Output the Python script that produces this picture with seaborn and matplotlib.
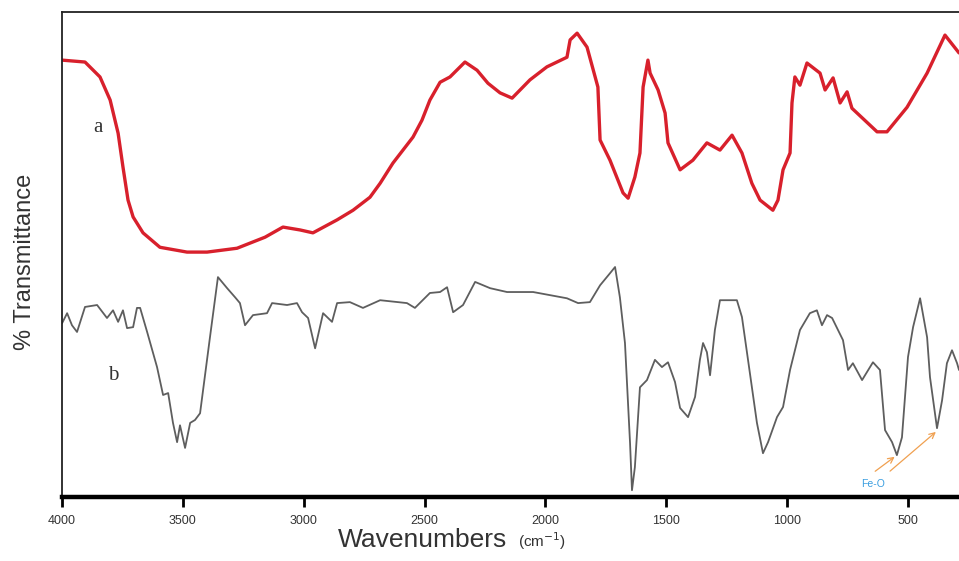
import pandas as pd
import seaborn as sns
import matplotlib
matplotlib.use("Agg")
import matplotlib.pyplot as plt

# spectrum a (red)
wn_a = [4000, 3905, 3843, 3801, 3768, 3748, 3727, 3706, 3665, 3595, 3483, 3400,
        3276, 3160, 3086, 3015, 2962, 2862, 2796, 2726, 2684, 2631, 2548, 2511,
        2478, 2436, 2395, 2333, 2283, 2238, 2188, 2138, 2064, 1994, 1911, 1898,
        1869, 1828, 1783, 1774, 1733, 1679, 1658, 1630, 1609, 1596, 1576, 1567,
        1534, 1505, 1493, 1443, 1390, 1332, 1278, 1228, 1187, 1146, 1112, 1059,
        1038, 1017, 988, 980, 968, 947, 918, 864, 843, 810, 781, 752, 732, 628,
        587, 504, 421, 347, 289]
t_a = [90.0, 89.6, 86.5, 81.7, 74.8, 67.8, 60.9, 57.4, 54.1, 51.1, 50.1, 50.1,
       50.9, 53.2, 55.3, 54.7, 54.1, 56.8, 58.8, 61.5, 64.4, 68.6, 74.0, 77.5,
       81.7, 85.4, 86.5, 89.6, 87.9, 85.2, 83.2, 82.1, 85.9, 88.6, 90.6, 94.2,
       95.6, 92.7, 84.4, 73.4, 69.2, 62.4, 61.3, 65.7, 70.7, 84.4, 90.0, 87.3,
       83.8, 79.0, 72.8, 67.2, 69.2, 72.8, 71.3, 74.4, 70.7, 64.4, 60.9, 58.8,
       60.9, 67.2, 70.7, 81.1, 86.5, 84.8, 89.4, 87.3, 83.8, 86.3, 81.1, 83.4,
       80.0, 75.1, 75.1, 80.2, 87.3, 95.2, 91.5]

# spectrum b (grey)
wn_b = [4000, 3979, 3959, 3938, 3905, 3855, 3814, 3789, 3768, 3748, 3731, 3706,
        3690, 3677, 3648, 3607, 3582, 3561, 3541, 3524, 3512, 3491, 3470, 3450,
        3429, 3388, 3355, 3317, 3284, 3264, 3243, 3210, 3152, 3131, 3069, 3028,
        3007, 2982, 2953, 2920, 2883, 2862, 2809, 2755, 2684, 2573, 2540, 2478,
        2436, 2407, 2382, 2341, 2291, 2229, 2159, 2051, 1911, 1865, 1816, 1774,
        1733, 1712, 1692, 1671, 1650, 1642, 1630, 1609, 1580, 1547, 1518, 1493,
        1464, 1443, 1410, 1381, 1361, 1348, 1332, 1319, 1299, 1278, 1208, 1187,
        1154, 1125, 1100, 1079, 1042, 1017, 988, 947, 906, 877, 856, 835, 814,
        769, 748, 728, 690, 645, 616, 595, 566, 546, 525, 500, 479, 450, 421,
        409, 380, 359, 339, 318, 297, 289]
t_b = [35.3, 37.4, 34.9, 33.5, 38.7, 39.1, 36.4, 38.0, 35.6, 38.0, 34.3, 34.5,
       38.5, 38.5, 33.5, 26.2, 20.4, 20.8, 14.6, 10.6, 14.1, 9.4, 14.6, 15.2,
       16.6, 32.4, 44.9, 42.6, 40.7, 39.5, 34.9, 37.0, 37.4, 39.5, 39.1, 39.5,
       37.6, 36.4, 30.1, 37.4, 35.6, 39.5, 39.7, 38.5, 40.1, 39.5, 38.5, 41.6,
       41.8, 42.8, 37.6, 39.1, 43.9, 42.6, 41.8, 41.8, 40.5, 39.5, 39.7, 43.2,
       45.7, 47.0, 40.7, 31.2, 10.4, 0.6, 5.4, 22.0, 23.5, 27.7, 26.2, 27.2,
       23.1, 17.7, 15.8, 20.0, 27.7, 31.2, 29.3, 24.5, 33.9, 40.1, 40.1, 36.6,
       24.9, 14.6, 8.3, 10.6, 15.8, 17.9, 25.6, 33.9, 37.4, 38.0, 34.9, 37.0,
       36.4, 31.8, 25.6, 27.0, 23.5, 27.2, 25.6, 13.1, 10.6, 7.9, 11.6, 28.3,
       34.5, 40.5, 32.4, 24.1, 13.5, 19.3, 27.0, 29.7, 27.0, 25.6]

tick_values = [4000, 3500, 3000, 2500, 2000, 1500, 1000, 500]

df_a = pd.DataFrame({"wavenumber": wn_a, "T": t_a})
df_b = pd.DataFrame({"wavenumber": wn_b, "T": t_b})

sns.set_style("white")
plt.rcParams["font.family"] = ["Liberation Sans", "DejaVu Sans"]

fig = plt.figure(figsize=(9.59, 5.61), dpi=100)
ax = fig.add_axes([0.0647, 0.1141, 0.9353, 0.8645])

sns.lineplot(data=df_a, x="wavenumber", y="T", sort=False, color="#d8202c",
             linewidth=2.4, ax=ax)
sns.lineplot(data=df_b, x="wavenumber", y="T", sort=False, color="#5e5e5e",
             linewidth=1.3, ax=ax)

ax.set_xlim(4000, 289)
ax.set_ylim(-0.8, 100)
ax.set_xticks(tick_values)
ax.set_xticklabels([str(v) for v in tick_values], fontsize=9, color="#333333")
ax.set_yticks([])
ax.set_xlabel("")
ax.set_ylabel("")
ax.tick_params(axis="x", direction="out", length=7, width=2, color="black",
               bottom=True, pad=6)

for side in ["left", "top"]:
    ax.spines[side].set_color("#222222")
    ax.spines[side].set_linewidth(1.3)
ax.spines["bottom"].set_color("black")
ax.spines["bottom"].set_linewidth(3.2)
ax.spines["right"].set_visible(False)

# curve labels
ax.text(3851, 75.9, "a", family="Liberation Serif", fontsize=15,
        color="#333333", ha="center", va="center")
ax.text(3789, 24.5, "b", family="Liberation Serif", fontsize=15,
        color="#333333", ha="center", va="center")

# Fe-O annotation
ax.annotate("", xy=(546, 7.9), xytext=(645, 4.2),
            arrowprops=dict(arrowstyle="->", color="#f0a050", lw=0.9))
ax.annotate("", xy=(376, 13.1), xytext=(583, 4.2),
            arrowprops=dict(arrowstyle="->", color="#f0a050", lw=0.9))
ax.text(645, 2.0, "Fe-O", fontsize=7.5, color="#3a9ee0", ha="center",
        va="center")

fig.text(25 / 959, 1 - 262 / 561, "% Transmittance", rotation=90,
         fontsize=17, color="#333333", ha="center", va="center")
fig.text(338 / 959, 1 - 547 / 561, "Wavenumbers", fontsize=19,
         color="#333333", ha="left", va="baseline")
fig.text(518 / 959, 1 - 547 / 561, "(cm$^{-1}$)", fontsize=11,
         color="#333333", ha="left", va="baseline")

fig.savefig("out.png", dpi=100)
